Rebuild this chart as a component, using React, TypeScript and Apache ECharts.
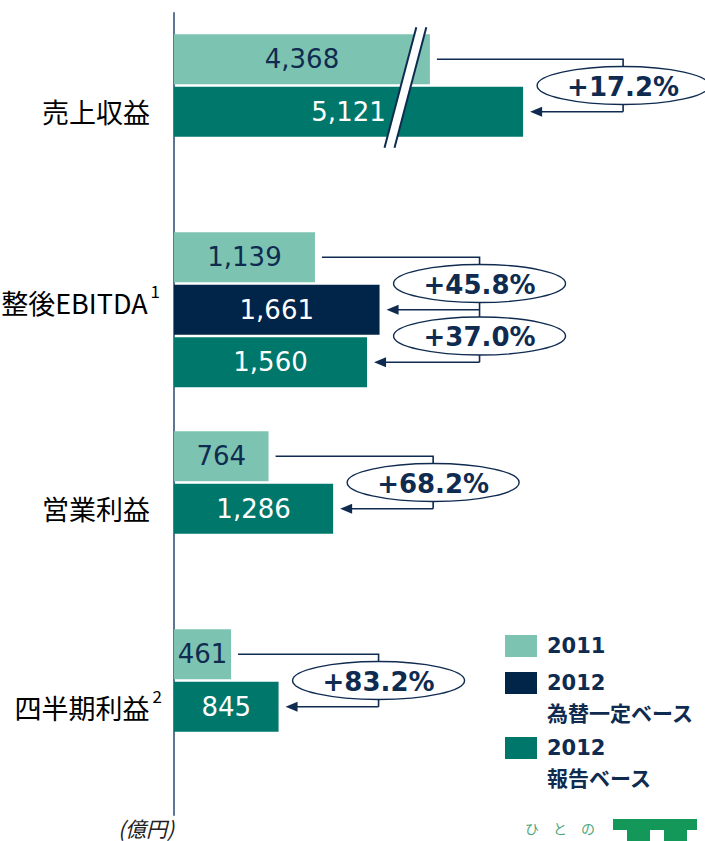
import React, { useEffect, useRef } from 'react';
import * as echarts from 'echarts';

// ---- data ----
const GROUPS = ['売上収益', '調整後EBITDA', '営業利益', '四半期利益'];
const GROUP_NOTES = ['', '1', '', '2'];
const V2011: (number | null)[] = [4368, 1139, 764, 461];
const V2012FX: (number | null)[] = [null, 1661, null, null];
const V2012REP: (number | null)[] = [5121, 1560, 1286, 845];
const GROWTH_FX: (string | null)[] = [null, '+45.8%', null, null];
const GROWTH_REP: (string | null)[] = ['+17.2%', '+37.0%', '+68.2%', '+83.2%'];
const BREAK_CUT = [2300, 0, 0, 0]; // value range removed by the broken axis, per group
const BREAK_AT = 1870; // displayed value where the break mark is drawn
const SERIES_NAMES = ['2011', '2012 為替一定ベース', '2012 報告ベース'];
const LEGEND_LINES = [['2011'], ['2012', '為替一定ベース'], ['2012', '報告ベース']];
const UNIT = '(億円)';

// ---- style ----
const COLORS = ['#7dc3b2', '#012549', '#00776b'];
const NAVY = '#0f2b50';
const AXIS_COLOR = '#5e7693';
const GRID_LEFT = 174;
const GRID_WIDTH = 495;
const X_MAX = 4000;
const ROW_H = 52.5;
const GRID_TOPS = [33, 231, 430, 628];
const LABEL_MARGINS = [24, 14, 24, 12];
const LEGEND_TOPS = [630.5, 636.5, 701.5];

const VALS = [V2011, V2012FX, V2012REP];
const rowsOf = (g: number) => [0, 1, 2].filter((k) => VALS[k][g] != null);
const disp = (k: number, g: number) => (VALS[k][g] as number) - BREAK_CUT[g];
const fmt = (n: number) => n.toLocaleString('en-US');

function buildOption() {
  const grid: any[] = [];
  const xAxis: any[] = [];
  const yAxis: any[] = [];
  const series: any[] = [];
  GROUPS.forEach((name, g) => {
    const rows = rowsOf(g);
    grid.push({
      left: GRID_LEFT,
      width: GRID_WIDTH,
      top: GRID_TOPS[g],
      height: rows.length * ROW_H,
      outerBoundsMode: 'none',
    });
    xAxis.push({ type: 'value', gridIndex: g, min: 0, max: X_MAX, show: false });
    const hasNote = !!GROUP_NOTES[g];
    yAxis.push({
      type: 'category',
      gridIndex: g,
      inverse: true,
      data: rows.map((k) => `${g}-${k}`),
      axisLine: { show: false },
      axisTick: { show: false },
      splitLine: { show: false },
      axisLabel: {
        margin: LABEL_MARGINS[g],
        padding: g === 1 ? [0, 0, 22, 0] : hasNote ? [0, 0, 6, 0] : 0,
        formatter: (_v: string, i: number) =>
          i === 1
            ? (hasNote ? `{m|${name}}{s|${GROUP_NOTES[g]}}` : `{n|${name}}`)
            : '',
        rich: {
          n: { fontSize: 27, fontFamily: 'Noto Sans CJK JP', color: '#000' },
          m: {
            fontSize: 27,
            fontFamily: 'Noto Sans CJK JP',
            color: '#000',
            verticalAlign: 'bottom',
            padding: [7, 0, 0, 0],
          },
          s: {
            fontSize: 17,
            fontFamily: 'Noto Sans CJK JP',
            color: '#000',
            verticalAlign: 'top',
            padding: [0, 0, 0, 3],
          },
        },
      },
    });
    rows.forEach((k) => {
      series.push({
        type: 'bar',
        name: SERIES_NAMES[k],
        xAxisIndex: g,
        yAxisIndex: g,
        barWidth: 50,
        barGap: '-100%',
        itemStyle: { color: COLORS[k] },
        label: {
          show: true,
          position: 'inside',
          fontFamily: 'DejaVu Sans',
          fontSize: 26,
          color: k === 0 ? NAVY : '#ffffff',
          formatter: (p: any) => fmt(p.data.raw),
        },
        data: rows.map((kk) => (kk === k ? { value: disp(k, g), raw: VALS[k][g] } : null)),
      });
    });
  });

  // a grid just for the long vertical axis line
  grid.push({ left: GRID_LEFT, width: GRID_WIDTH, top: 13, height: 802, outerBoundsMode: 'none' });
  xAxis.push({ type: 'value', gridIndex: 4, min: 0, max: X_MAX, show: false });
  yAxis.push({
    type: 'value',
    gridIndex: 4,
    min: 0,
    max: 1,
    axisLine: { show: true, onZero: false, lineStyle: { color: AXIS_COLOR, width: 2 } },
    axisTick: { show: false },
    axisLabel: { show: false },
    splitLine: { show: false },
  });

  const legend = LEGEND_LINES.map((lines, i) => ({
    data: [{ name: SERIES_NAMES[i], icon: 'rect' }],
    left: 505,
    top: LEGEND_TOPS[i],
    padding: 0,
    itemWidth: 32,
    itemHeight: 22,
    selectedMode: false,
    // a blank leading line keeps the first text line level with the square
    formatter: () => (lines.length > 1 ? [' ', ...lines] : lines).join('\n'),
    textStyle: {
      fontFamily: 'DejaVu Sans, Noto Sans CJK JP',
      fontWeight: 'bold',
      fontSize: 21,
      color: NAVY,
      lineHeight: 31,
      padding: [0, 0, 0, 5],
    },
  }));

  return { animation: false, backgroundColor: '#ffffff', grid, xAxis, yAxis, series, legend };
}

function buildGraphics(chart: any) {
  const els: any[] = [];
  const P = (g: number, v: number, row: number) => chart.convertToPixel({ gridIndex: g }, [v, row]);

  // break mark on revenue bars
  {
    const g = 0;
    const cx = P(g, BREAK_AT, 0)[0];
    const yTop = P(g, 0, 0)[1] - 32;
    const yBot = P(g, 0, 1)[1] + 36;
    const d = (yBot - yTop) * 0.132;
    const w = 5;
    els.push({
      type: 'polygon',
      z: 100,
      shape: {
        points: [
          [cx + d - w, yTop],
          [cx + d + w, yTop],
          [cx - d + w, yBot],
          [cx - d - w, yBot],
        ],
      },
      style: { fill: '#ffffff' },
    });
    [-w, w].forEach((o) =>
      els.push({
        type: 'line',
        z: 101,
        shape: { x1: cx + d + o, y1: yTop, x2: cx - d + o, y2: yBot },
        style: { stroke: NAVY, lineWidth: 2 },
      })
    );
  }

  // growth connectors
  GROUPS.forEach((_n, g) => {
    const rows = rowsOf(g);
    const targets: { k: number; text: string }[] = [];
    if (GROWTH_FX[g]) targets.push({ k: 1, text: GROWTH_FX[g] as string });
    if (GROWTH_REP[g]) targets.push({ k: 2, text: GROWTH_REP[g] as string });
    const maxDisp = Math.max(...rows.map((k) => disp(k, g)));
    const vx = P(g, maxDisp, 0)[0] + 100;
    const r0 = rows.indexOf(0);
    const y0 = P(g, 0, r0)[1];
    const x0 = P(g, disp(0, g), r0)[0] + 7;
    const lastRow = rows.indexOf(targets[targets.length - 1].k);
    const yLast = P(g, 0, lastRow)[1];
    els.push({
      type: 'polyline',
      z: 100,
      shape: { points: [[x0, y0], [vx, y0], [vx, yLast]] },
      style: { stroke: NAVY, lineWidth: 1.6, fill: null },
    });
    targets.forEach((t) => {
      const r = rows.indexOf(t.k);
      const yT = P(g, 0, r)[1];
      const tipX = P(g, disp(t.k, g), r)[0] + 7;
      els.push({
        type: 'line',
        z: 100,
        shape: { x1: vx, y1: yT, x2: tipX + 8, y2: yT },
        style: { stroke: NAVY, lineWidth: 1.6 },
      });
      els.push({
        type: 'polygon',
        z: 100,
        shape: { points: [[tipX, yT], [tipX + 12, yT - 5], [tipX + 12, yT + 5]] },
        style: { fill: NAVY },
      });
      const yPrev = P(g, 0, r - 1)[1];
      const cy = (yPrev + yT) / 2;
      els.push({
        type: 'ellipse',
        z: 102,
        shape: { cx: vx, cy, rx: 86, ry: 19 },
        style: { fill: '#ffffff', stroke: NAVY, lineWidth: 1.4 },
      });
      els.push({
        type: 'text',
        z: 103,
        x: vx,
        y: cy + 1,
        style: {
          text: t.text,
          fill: NAVY,
          fontFamily: 'DejaVu Sans',
          fontWeight: 'bold',
          fontSize: 26,
          align: 'center',
          verticalAlign: 'middle',
        },
      });
    });
  });

  // unit
  els.push({
    type: 'text',
    x: 146,
    y: 828,
    style: {
      text: UNIT,
      fill: '#222',
      fontFamily: 'Noto Sans CJK JP',
      fontStyle: 'italic',
      fontSize: 21,
      align: 'center',
      verticalAlign: 'middle',
    },
  });

  // logo (decoration)
  els.push({
    type: 'text',
    x: 525,
    y: 828,
    style: {
      text: 'ひ　と　の',
      fill: '#4ea77a',
      fontFamily: 'Noto Sans CJK JP',
      fontSize: 14,
      align: 'left',
      verticalAlign: 'middle',
    },
  });
  const LG = '#14985a';
  els.push({ type: 'rect', shape: { x: 613, y: 819, width: 84, height: 11 }, style: { fill: LG } });
  els.push({ type: 'rect', shape: { x: 627, y: 819, width: 23, height: 22 }, style: { fill: LG } });
  els.push({ type: 'rect', shape: { x: 664, y: 819, width: 23, height: 22 }, style: { fill: LG } });

  return { elements: els };
}

export default function App() {
  const ref = useRef<HTMLDivElement>(null);
  useEffect(() => {
    const chart = echarts.init(ref.current as HTMLDivElement, null, { renderer: 'svg' });
    chart.setOption(buildOption() as any);
    chart.setOption({ graphic: buildGraphics(chart) } as any);
    return () => chart.dispose();
  }, []);
  return (
    <div
      ref={ref}
      style={{ position: 'fixed', left: 0, top: 0, width: 705, height: 841, background: '#fff' }}
    />
  );
}
